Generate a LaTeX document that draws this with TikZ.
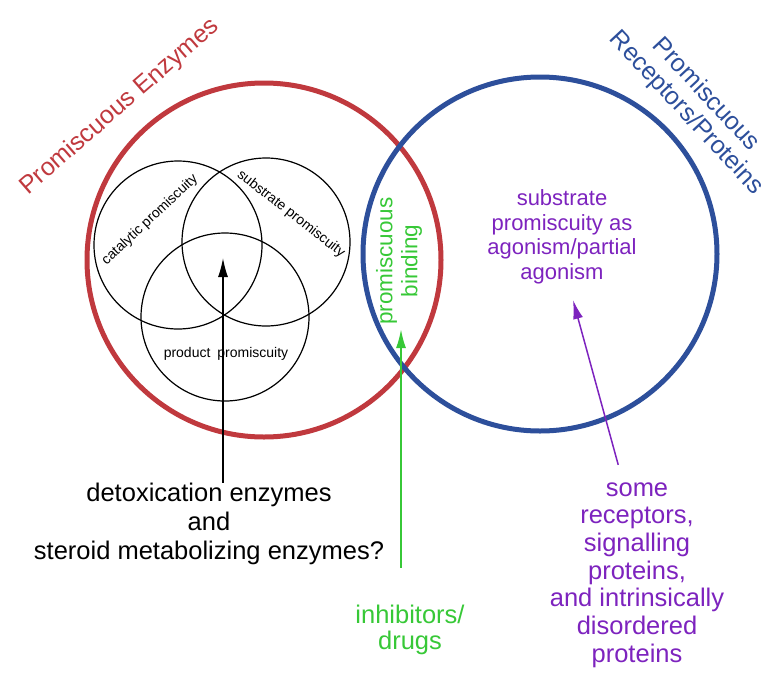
\documentclass[tikz,border=0pt]{standalone}
\usepackage{fontspec}
\setmainfont{Liberation Sans}
\usepackage{xcolor}
\usepackage{tikz}
\usetikzlibrary{arrows.meta,positioning}

\definecolor{enzred}{RGB}{192,57,62}
\definecolor{recblue}{RGB}{45,79,155}
\definecolor{drugreen}{RGB}{55,200,55}
\definecolor{agopurple}{RGB}{125,35,190}

\begin{document}
\begin{tikzpicture}[
  x=1pt, y=-1pt,
  >={Latex[length=19pt,width=10pt]},
  every node/.style={inner sep=0pt, align=center},
  bigset/.style={circle, line width=5pt, minimum size=354pt},
  venn/.style={circle, draw, line width=1.2pt, minimum size=168pt},
  vlbl/.style={font=\fontsize{14}{16}\selectfont},
  settitle/.style={font=\fontsize{25}{27}\selectfont},
  bignote/.style={font=\fontsize{25.5}{28}\selectfont},
  arr/.style={->, line width=1.5pt},
]
\useasboundingbox (0,0) rectangle (769,673);

% === Sets ===
\node[bigset, draw=enzred] (enz) at (264,260) {};
\node[bigset, draw=recblue] (rec) at (540,254) {};

% === Venn of enzyme promiscuity ===
\node[venn] (cat) at (178,245) {};
\node[venn] (sub) at (266,242) {};
\node[venn] (prod) at (225,317) {};

\node[vlbl, rotate=43] (catlbl) at (150,220) {catalytic promiscuity};
\node[vlbl, rotate=-38] (sublbl) at (291,214) {substrate promiscuity};
\node[vlbl] (prodlbl) at (226,354) {product\hspace{0.5em}promiscuity};

% === Titles ===
\node[settitle, text=enzred, rotate=41] (enzttl) at (120,107) {Promiscuous Enzymes};
\node[settitle, text=recblue, rotate=-47] (recttl) at (696,104) {Promiscuous\\Receptors/Proteins};

% === Inner labels ===
\node[font=\fontsize{22.5}{25}\selectfont, text=drugreen, rotate=90] (bind) at (399,261) {promiscuous\\binding};
\node[font=\fontsize{22}{24.5}\selectfont, text=agopurple] (ago) at (562,237) {substrate\\promiscuity as\\agonism/partial\\agonism};

% === Tips ===
\coordinate (core) at (223,258);
\coordinate (bindtip) at (401,329);
\coordinate (agotip) at (573,300);

% === Outer notes ===
\node[bignote, font=\fontsize{25.5}{29}\selectfont] (detox) at (209,524) {detoxication enzymes\\and\\steroid metabolizing enzymes?};
\node[bignote, font=\fontsize{25.5}{26.5}\selectfont, text=drugreen] (drugs) at (410,630) {inhibitors/\\drugs};
\node[bignote, font=\fontsize{25.5}{27.7}\selectfont, text=agopurple] (recep) at (637,575) {some\\receptors,\\signalling\\proteins,\\and intrinsically\\disordered\\proteins};

% === Arrows ===
\draw[arr] (detox.north -| core) -- (core);
\draw[arr, drugreen, line width=2pt, shorten <=37pt] (drugs.north -| bindtip) -- (bindtip);
\draw[arr, agopurple, shorten <=18pt] ([xshift=-14pt]recep.north) -- (agotip);

\end{tikzpicture}
\end{document}
